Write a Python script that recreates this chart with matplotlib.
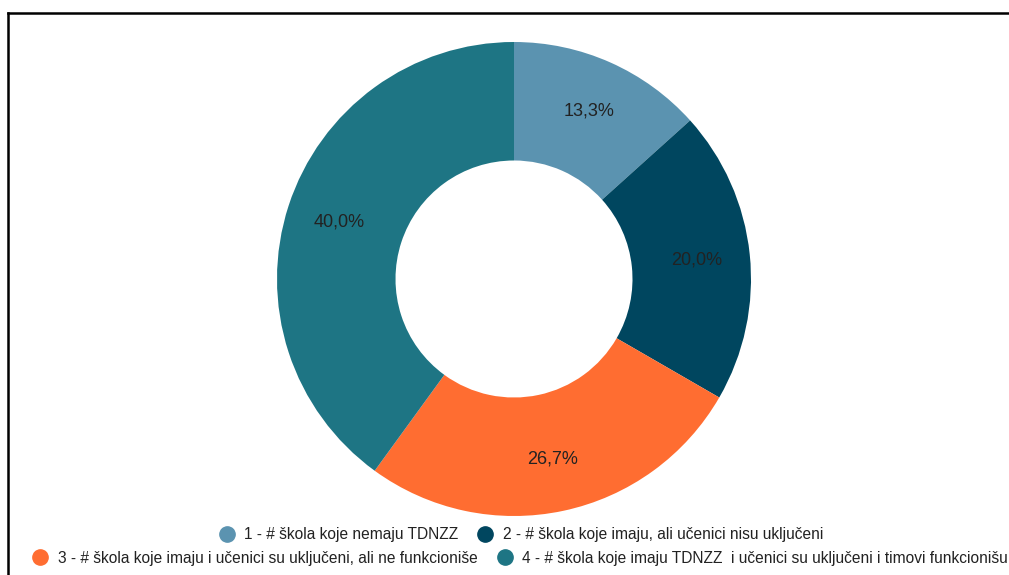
import matplotlib
matplotlib.use("Agg")
from matplotlib import pyplot as plt
from matplotlib.lines import Line2D

# school counts per category (share of 15 schools)
labels = [
    "1 - # škola koje nemaju TDNZZ",
    "2 - # škola koje imaju, ali učenici nisu uključeni",
    "3 - # škola koje imaju i učenici su uključeni, ali ne funkcioniše",
    "4 - # škola koje imaju TDNZZ  i učenici su uključeni i timovi funkcionišu",
]
counts = [2, 3, 4, 6]
colors = ["#5b93b0", "#00465f", "#ff6d31", "#1e7584"]

plt.rcParams["font.family"] = ["Liberation Sans", "DejaVu Sans"]

W, H = 1009, 575
fig = plt.figure(figsize=(W / 100, H / 100), dpi=100)
fig.patch.set_facecolor("white")

# pie geometry in pixels
cx, cy, r = 514, 279, 237
ax = fig.add_axes([(cx - r) / W, (H - cy - r) / H, 2 * r / W, 2 * r / H])


def fmt_pct(p):
    return f"{p:.1f}%".replace(".", ",")


wedges, _, autotexts = ax.pie(
    counts, colors=colors, startangle=90, counterclock=False,
    radius=1.0, wedgeprops=dict(width=0.5, linewidth=0),
    autopct=fmt_pct, pctdistance=0.775,
    textprops=dict(fontsize=13, color="#222222"),
)
ax.set_xlim(-1, 1)
ax.set_ylim(-1, 1)
ax.set_aspect("equal")
ax.axis("off")

# frame around the chart (cut off at the right and bottom)
fx, fy = 7.5 / W, 1 - 13 / H
fig.add_artist(Line2D([fx, fx], [0, fy], color="black", lw=1.8, transform=fig.transFigure))
fig.add_artist(Line2D([fx, 1], [fy, fy], color="black", lw=1.8, transform=fig.transFigure))


def handles_for(idx):
    return [Line2D([], [], marker="o", linestyle="none", markersize=11,
                   markerfacecolor=colors[i], markeredgecolor=colors[i]) for i in idx]


common = dict(loc="center", ncol=2, frameon=False, fontsize=11.2,
              handlelength=1.0, handletextpad=0.6, columnspacing=1.25,
              borderpad=0, borderaxespad=0)
leg1 = fig.legend(handles_for([0, 1]), labels[:2],
                  bbox_to_anchor=(521 / W, 1 - 535 / H), **common)
leg2 = fig.legend(handles_for([2, 3]), labels[2:],
                  bbox_to_anchor=(520 / W, 1 - 558 / H), **common)
for leg in (leg1, leg2):
    for t in leg.get_texts():
        t.set_color("#222222")

fig.savefig("out.png", dpi=100)
